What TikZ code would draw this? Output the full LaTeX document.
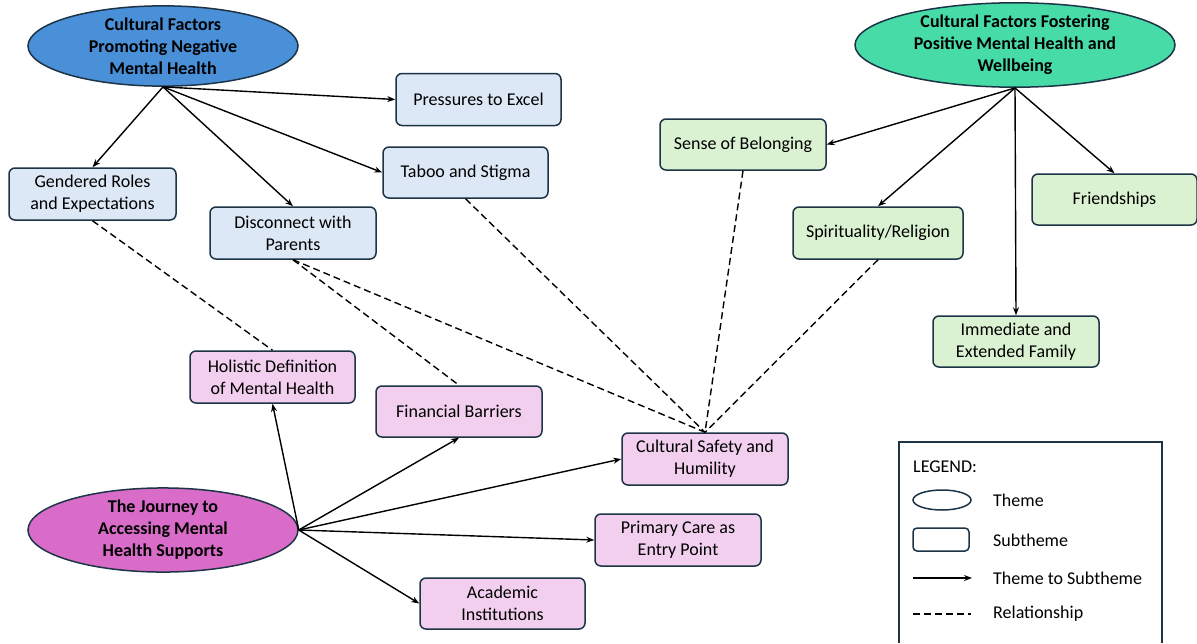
\documentclass[tikz,border=0pt]{standalone}
\usepackage{fontspec}
\setmainfont{Carlito}
\usetikzlibrary{arrows.meta,shapes.geometric}
\definecolor{edgec}{HTML}{1C3446}
\definecolor{blueT}{HTML}{4A90D9}
\definecolor{greenT}{HTML}{47DBA8}
\definecolor{magT}{HTML}{D86CC8}
\definecolor{blueS}{HTML}{DDE8F6}
\definecolor{greenS}{HTML}{DAF2D1}
\definecolor{pinkS}{HTML}{F2CFEE}
\tikzset{
  theme/.style={ellipse, draw=edgec, line width=1.5pt, inner sep=0pt, align=center,
    font=\fontsize{18}{22}\selectfont\bfseries},
  sub/.style={rectangle, rounded corners=6pt, draw=edgec, line width=1.5pt, inner sep=0pt,
    align=center, font=\fontsize{18}{22}\selectfont},
  tosub/.style={line width=1.4pt, -{Stealth[length=8pt,width=6pt]}},
  rel/.style={line width=1.4pt, dash pattern=on 7pt off 4pt},
  legtext/.style={anchor=west, inner sep=0pt, font=\fontsize{18}{21}\selectfont}
}
\begin{document}
\begin{tikzpicture}[x=1pt,y=-1pt]
\useasboundingbox[fill=white] (0,0) rectangle (1197,643);

% themes
\node[theme, fill=blueT, minimum width=270pt, minimum height=75pt] (neg) at (163,46)
  {Cultural Factors\\Promoting Negative\\Mental Health};
\node[theme, fill=greenT, minimum width=320pt, minimum height=76pt] (pos) at (1015,45)
  {Cultural Factors Fostering\\Positive Mental Health and\\Wellbeing};
\node[theme, fill=magT, minimum width=270pt, minimum height=75pt] (jour) at (163,530)
  {The Journey to\\Accessing Mental\\Health Supports};

% subthemes (blue)
\node[sub, fill=blueS, minimum width=165pt, minimum height=52pt] (press) at (478.5,99.5) {Pressures to Excel};
\node[sub, fill=blueS, minimum width=167pt, minimum height=52pt] (gend) at (92.5,194) {Gendered Roles\\and Expectations};
\node[sub, fill=blueS, minimum width=166pt, minimum height=52pt] (disc) at (293,233) {Disconnect with\\Parents};
\node[sub, fill=blueS, minimum width=165pt, minimum height=51pt] (taboo) at (465.5,172.5) {Taboo and Stigma};

% subthemes (green)
\node[sub, fill=greenS, minimum width=166pt, minimum height=51pt] (sense) at (743,144.5) {Sense of Belonging};
\node[sub, fill=greenS, minimum width=170pt, minimum height=52pt] (spirit) at (878,233) {Spirituality/Religion};
\node[sub, fill=greenS, minimum width=165pt, minimum height=51pt] (friend) at (1114.5,199.5) {Friendships};
\node[sub, fill=greenS, minimum width=166pt, minimum height=51pt] (family) at (1016,341.5) {Immediate and\\Extended Family};

% subthemes (pink)
\node[sub, fill=pinkS, minimum width=165pt, minimum height=52pt] (holis) at (272.5,377) {Holistic Definition\\of Mental Health};
\node[sub, fill=pinkS, minimum width=166pt, minimum height=51pt] (fin) at (459,411.5) {Financial Barriers};
\node[sub, fill=pinkS, minimum width=166pt, minimum height=52pt] (cult) at (705,459) {Cultural Safety and\\Humility};
\node[sub, fill=pinkS, minimum width=166pt, minimum height=52pt] (prim) at (678,540) {Primary Care as\\Entry Point};
\node[sub, fill=pinkS, minimum width=165pt, minimum height=51pt] (acad) at (502.5,603.5) {Academic\\Institutions};

% theme to subtheme
\draw[tosub] (neg.south) -- (press.west);
\draw[tosub] (neg.south) -- (taboo.west);
\draw[tosub] (neg.south) -- (disc.north);
\draw[tosub] (neg.south) -- (gend.north);
\draw[tosub] (pos.south) -- (sense.east);
\draw[tosub] (pos.south) -- (spirit.north);
\draw[tosub] (pos.south) -- (friend.north);
\draw[tosub] (pos.south) -- (family.north);
\draw[tosub] (jour.east) -- (holis.south);
\draw[tosub] (jour.east) -- (fin.south);
\draw[tosub] (jour.east) -- (cult.west);
\draw[tosub] (jour.east) -- (prim.west);
\draw[tosub] (jour.east) -- (acad.west);

% relationships
\draw[rel] (gend.south) -- (holis.north);
\draw[rel] (disc.south) -- (fin.north);
\draw[rel] (disc.south) -- (cult.north);
\draw[rel] (taboo.south) -- (cult.north);
\draw[rel] (sense.south) -- (cult.north);
\draw[rel] (spirit.south) -- (cult.north);

% legend
\draw[edgec, line width=1.5pt] (899,643) -- (899,442) -- (1162,442) -- (1162,643);
\node[legtext] (legt) at (913,467) {LEGEND:};
\node[ellipse, draw=edgec, line width=1.5pt, minimum width=58pt, minimum height=20pt, inner sep=0pt] (lell) at (942,500) {};
\node[legtext] (lth) at (993,500) {Theme};
\node[rectangle, rounded corners=4pt, draw=edgec, line width=1.5pt, minimum width=56pt, minimum height=23pt, inner sep=0pt] (lbox) at (941,539.5) {};
\node[legtext] (lsub) at (993,540) {Subtheme};
\coordinate (la1) at (913,578);
\coordinate (la2) at (972,578);
\draw[tosub] (la1) -- (la2);
\node[legtext] (lts) at (993,578) {Theme to Subtheme};
\coordinate (ld1) at (913,614);
\coordinate (ld2) at (971,614);
\draw[rel] (ld1) -- (ld2);
\node[legtext] (lrel) at (993,614) {Relationship};
\end{tikzpicture}
\end{document}
